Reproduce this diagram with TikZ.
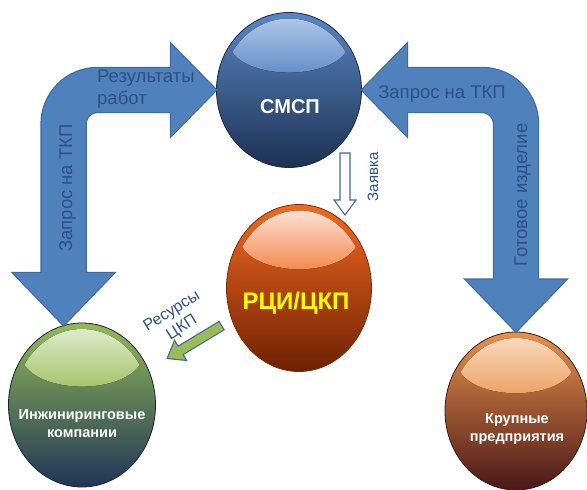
\documentclass[tikz,border=0pt]{standalone}
\usepackage{fontspec}
\setmainfont{Liberation Sans}
\usepackage{tikz}
\usetikzlibrary{arrows.meta,shapes.geometric,calc}

\definecolor{arrowblue}{HTML}{4F81BD}
\definecolor{arrowedge}{HTML}{40699C}
\definecolor{labelblue}{HTML}{2E5084}
\definecolor{resgreen}{HTML}{9BBB59}
\definecolor{rciyellow}{HTML}{FFFF00}
% цвета шаров
\definecolor{smspA}{HTML}{5A86C3}\definecolor{smspB}{HTML}{3C679F}\definecolor{smspC}{HTML}{1D3152}
\definecolor{smspG}{HTML}{B4CAE8}\definecolor{smspH}{HTML}{6690CA}
\definecolor{rciA}{HTML}{F36A1F}\definecolor{rciB}{HTML}{D4520A}\definecolor{rciC}{HTML}{6E2004}
\definecolor{rciG}{HTML}{FDE8E0}\definecolor{rciH}{HTML}{F48A50}
\definecolor{engA}{HTML}{93B956}\definecolor{engB}{HTML}{66855A}\definecolor{engC}{HTML}{1F3559}
\definecolor{engG}{HTML}{E4EED2}\definecolor{engH}{HTML}{A5C56B}
\definecolor{krupA}{HTML}{E8924B}\definecolor{krupB}{HTML}{B96C3B}\definecolor{krupC}{HTML}{4A1818}
\definecolor{krupG}{HTML}{FADCC2}\definecolor{krupH}{HTML}{EDA466}

\tikzset{
  ball/.style = {ellipse, inner sep=0pt, line width=0.8pt},
  smspball/.style = {ball, minimum width=145pt, minimum height=155pt, draw=smspC!80!black,
    top color=smspA, middle color=smspB, bottom color=smspC},% сфера СМСП
  rciball/.style = {ball, minimum width=145pt, minimum height=167pt, draw=rciC!90!orange,
    top color=rciA, middle color=rciB, bottom color=rciC},% сфера РЦИ
  engball/.style = {ball, minimum width=147pt, minimum height=164pt, draw=engC!60!black,
    top color=engA, middle color=engB, bottom color=engC},% сфера инжиниринга
  krupball/.style = {ball, minimum width=142pt, minimum height=158pt, draw=krupC!80!black,
    top color=krupA, middle color=krupB, bottom color=krupC},% сфера предприятий
  balltext/.style = {font=\bfseries\fontsize{14.5}{18}\selectfont, text=white,
    align=center, inner sep=0pt},
  arrowtext/.style = {font=\fontsize{18.5}{21.5}\selectfont, text=labelblue, inner sep=0pt},
  bigarrow/.style = {draw=arrowblue, line width=44pt, rounded corners=34pt,
    arrows={Triangle[width=97pt,length=52pt]-Triangle[width=89pt,length=45pt]},
    preaction={draw=arrowedge, line width=46.4pt, shorten <=-1.76pt, shorten >=-1.71pt,
      arrows={Triangle[width=102.5pt,length=55pt]-Triangle[width=94.7pt,length=47.9pt]}}},
  resarrow/.style = {draw=resgreen, line width=8.5pt, arrows={-Triangle[width=20pt,length=14pt]},
    preaction={draw=arrowedge, line width=10.9pt, shorten <=-1.2pt, shorten >=-2pt,
      arrows={-Triangle[width=24.7pt,length=17.3pt]}}},
  hollowarrow/.style = {draw=arrowedge, line width=1.1pt, fill=white, line join=miter}
}

% блик сверху шара: имя, полуоси, цвета
\newcommand{\ballgloss}[5]{%
  \begin{scope}
    \clip ($(#1.center)+(0,2)$) ellipse [x radius={#2-5}, y radius={#3-4}];
    \fill[top color=#4, bottom color=#5] ($(#1.north)+(0,{0.4*#3})$)
      ellipse [x radius={0.82*#2}, y radius={0.38*#3}];
  \end{scope}}

\begin{document}
\begin{tikzpicture}[x=1pt, y=-1pt]
\useasboundingbox (0,0) rectangle (587,490);

% шары
\node[smspball] (smsp) at (289,90) {};
\node[rciball] (rci) at (299,288) {};
\node[engball] (eng) at (82,405) {};
\node[krupball] (krup) at (516,411) {};

\ballgloss{smsp}{72.5}{77.5}{smspG}{smspH}
\ballgloss{rci}{72.5}{83.5}{rciG}{rciH}
\ballgloss{eng}{73.5}{82}{engG}{engH}
\ballgloss{krup}{71}{79}{krupG}{krupH}

\node[balltext, font=\bfseries\fontsize{20}{22}\selectfont] (smsp-t) at (290,107) {СМСП};
\node[balltext, font=\bfseries\fontsize{24}{26}\selectfont, text=rciyellow] (rci-t) at (296,303) {РЦИ/ЦКП};
\node[balltext] (eng-t) at (82,424) {Инжиниринговые\\компании};
\node[balltext] (krup-t) at (517,429) {Крупные\\предприятия};

% большие стрелки
\draw[bigarrow] (eng.103) |- (smsp.west);
\draw[bigarrow] (krup.north) |- (smsp.east);

% заявка
\coordinate (zay) at (345,153);
\draw[hollowarrow] (zay) -- ++(5,0) -- ++(0,47) -- ++(6,0) -- ++(-11,15)
  -- ++(-11,-15) -- ++(6,0) -- ++(0,-47) -- cycle;

% ресурсы
\coordinate (res-a) at (221,326);
\coordinate (res-b) at (168,358);
\draw[resarrow] (res-a) -- (res-b);

% подписи
\node[arrowtext, anchor=north west, align=left] (rez-lbl) at (97,70) {Результаты\\работ};
\node[arrowtext, rotate=90, anchor=base] (reql-lbl) at (72,188) {Запрос на ТКП};
\node[arrowtext, anchor=base] (reqr-lbl) at (442,98) {Запрос на ТКП};
\node[arrowtext, rotate=90, anchor=base] (prod-lbl) at (527,195) {Готовое изделие};
\node[arrowtext, font=\fontsize{15}{17}\selectfont, rotate=90, anchor=base] (zay-lbl) at (378,177) {Заявка};
\node[arrowtext, font=\fontsize{16}{19}\selectfont, rotate=32, align=center] (ckp-lbl) at (177,320) {Ресурсы\\ЦКП};
\end{tikzpicture}
\end{document}
